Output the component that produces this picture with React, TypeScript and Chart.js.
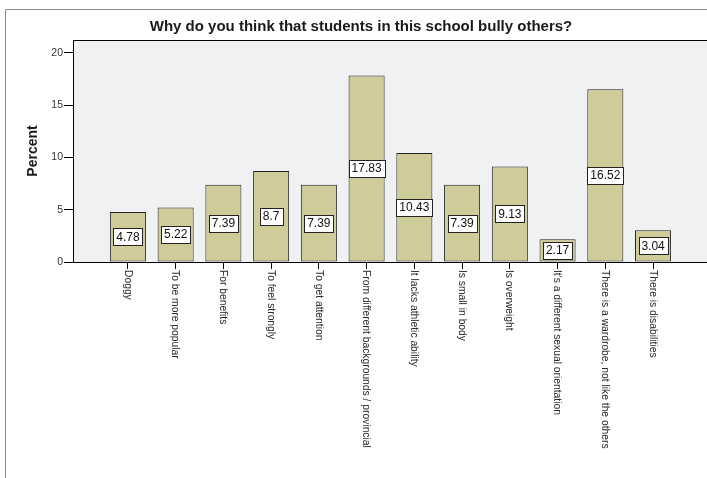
import { useEffect, useRef } from "react";
import { Chart, registerables } from "chart.js";

Chart.register(...registerables);

const categories = [
  "Doggy",
  "To be more popular",
  "For benefits",
  "To feel strongly",
  "To get attention",
  "From different backgrounds / provincial",
  "It lacks athletic ability",
  "Is small in body",
  "Is overweight",
  "It's a different sexual orientation",
  "There is a wardrobe, not like the others",
  "There is disabilities",
];
const percents = [4.78, 5.22, 7.39, 8.7, 7.39, 17.83, 10.43, 7.39, 9.13, 2.17, 16.52, 3.04];
const yTickValues = [0, 5, 10, 15, 20];
const titleText = "Why do you think that students in this school bully others?";
const yTitleText = "Percent";

const FONT = "'Liberation Sans', Arial, Helvetica, sans-serif";

export default function App() {
  const ref = useRef<HTMLCanvasElement | null>(null);

  useEffect(() => {
    document.body.style.margin = "0";
    const canvas = ref.current;
    if (!canvas) return;

    const decor = {
      id: "decor",
      beforeDraw(chart: any) {
        const { ctx, chartArea: a } = chart;
        ctx.save();
        ctx.fillStyle = "#ffffff";
        ctx.fillRect(0, 0, chart.width, chart.height);
        ctx.strokeStyle = "#8a8a8a";
        ctx.lineWidth = 1;
        ctx.beginPath();
        ctx.moveTo(5.5, chart.height);
        ctx.lineTo(5.5, 9.5);
        ctx.lineTo(chart.width, 9.5);
        ctx.stroke();
        ctx.fillStyle = "#f0f1f3";
        ctx.fillRect(a.left, a.top, a.right - a.left, a.bottom - a.top);
        ctx.restore();
      },
      afterDatasetsDraw(chart: any) {
        const { ctx } = chart;
        const meta = chart.getDatasetMeta(0);
        ctx.save();
        ctx.font = `12px ${FONT}`;
        ctx.textAlign = "center";
        ctx.textBaseline = "middle";
        meta.data.forEach((bar: any, i: number) => {
          const txt = String(percents[i]);
          const cy = (bar.y + bar.base) / 2;
          const w = Math.round(ctx.measureText(txt).width + 6);
          const h = 17;
          const x0 = Math.round(bar.x - w / 2) + 0.5;
          const y0 = Math.round(cy - h / 2) + 0.5;
          ctx.fillStyle = "#ffffff";
          ctx.fillRect(x0, y0, w, h);
          ctx.strokeStyle = "#222222";
          ctx.lineWidth = 1;
          ctx.strokeRect(x0, y0, w, h);
          ctx.fillStyle = "#111111";
          ctx.fillText(txt, bar.x, cy + 0.5);
        });
        ctx.restore();
      },
      afterDraw(chart: any) {
        const { ctx, chartArea: a } = chart;
        const xs = chart.scales.x;
        ctx.save();
        ctx.strokeStyle = "#000000";
        ctx.lineWidth = 1;
        ctx.beginPath();
        ctx.moveTo(a.left, Math.round(a.top) + 0.5);
        ctx.lineTo(a.right, Math.round(a.top) + 0.5);
        ctx.stroke();
        ctx.fillStyle = "#1a1a1a";
        ctx.font = `bold 15px ${FONT}`;
        ctx.textAlign = "center";
        ctx.textBaseline = "middle";
        ctx.fillText(titleText, 361, 27);
        ctx.save();
        ctx.translate(33, (a.top + a.bottom) / 2);
        ctx.rotate(-Math.PI / 2);
        ctx.font = `bold 14px ${FONT}`;
        ctx.fillText(yTitleText, 0, 0);
        ctx.restore();
        ctx.font = `10.3px ${FONT}`;
        ctx.fillStyle = "#2a2a2a";
        ctx.textAlign = "left";
        ctx.textBaseline = "middle";
        categories.forEach((lab, i) => {
          const x = xs.getPixelForValue(i);
          ctx.save();
          ctx.translate(x - 0.5, a.bottom + 8);
          ctx.rotate(Math.PI / 2);
          ctx.fillText(lab, 0, 0);
          ctx.restore();
        });
        ctx.restore();
      },
    };

    const chart = new Chart(canvas, {
      type: "bar",
      data: {
        datasets: [
          {
            data: percents.map((v, i) => ({ x: i, y: v })),
            backgroundColor: "#cfcc9a",
            borderColor: "#222222",
            borderWidth: 1,
            borderSkipped: false,
            categoryPercentage: 1,
            barPercentage: 0.755,
          },
        ],
      },
      options: {
        animation: false,
        responsive: false,
        maintainAspectRatio: false,
        layout: { padding: { top: 40, left: 0, right: 0, bottom: 0 } },
        plugins: {
          legend: { display: false },
          title: { display: false },
          tooltip: { enabled: false },
        },
        scales: {
          x: {
            type: "linear",
            offset: false,
            min: -1.15,
            max: 12.13,
            afterBuildTicks: (s: any) => {
              s.ticks = categories.map((_, i) => ({ value: i }));
            },
            afterFit: (s: any) => {
              s.height = 216;
            },
            ticks: { display: false },
            grid: {
              display: true,
              offset: false,
              drawOnChartArea: false,
              drawTicks: true,
              tickLength: 7,
              color: "#000000",
            },
            border: { display: true, color: "#000000", width: 1 },
          },
          y: {
            type: "linear",
            min: 0,
            max: 21.22,
            afterBuildTicks: (s: any) => {
              s.ticks = yTickValues.map((v) => ({ value: v }));
            },
            afterFit: (s: any) => {
              s.width = 73;
            },
            ticks: {
              padding: 1,
              color: "#333333",
              font: { family: FONT, size: 10.5 },
            },
            grid: {
              display: true,
              drawOnChartArea: false,
              drawTicks: true,
              tickLength: 9,
              color: "#000000",
            },
            border: { display: true, color: "#000000", width: 1 },
          },
        },
      } as any,
      plugins: [decor],
    });

    return () => chart.destroy();
  }, []);

  return (
    <div style={{ position: "absolute", left: 0, top: 0, width: 707, height: 478 }}>
      <canvas ref={ref} width={707} height={478} style={{ width: 707, height: 478, display: "block" }} />
    </div>
  );
}
